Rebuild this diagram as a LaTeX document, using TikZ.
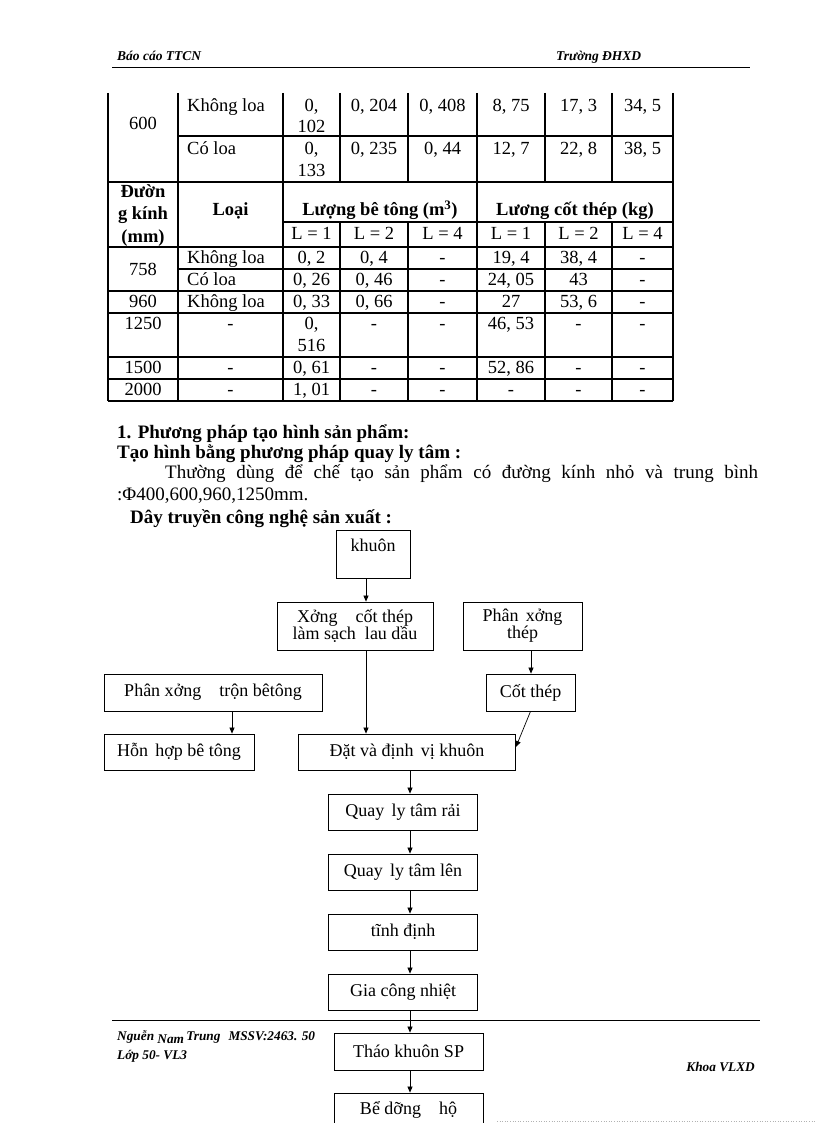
\documentclass[tikz,border=0pt]{standalone}
\usepackage{fontspec}
\setmainfont{Liberation Serif}
\usetikzlibrary{arrows.meta}
\newcommand\mytabrow[3]{%
  \foreach \v [count=\i] in {#3} {%
    \pgfmathsetmacro\cx{{311.5,374,442.5,511,578.5,642.5}[\i-1]}%
    \node[tab] (#1-\i) at (\cx,#2) {\v};}}
\begin{document}
\begin{tikzpicture}[x=1pt,y=-1pt,
  hdr/.style={font=\bfseries\itshape\fontsize{13.5}{15}\selectfont, inner sep=0pt},
  ftr/.style={font=\bfseries\itshape\fontsize{13.3}{15}\selectfont, inner sep=0pt},
  tab/.style={font=\fontsize{18.5}{20}\selectfont, inner sep=0pt, anchor=base},
  tabb/.style={tab, font=\bfseries\fontsize{18.5}{20}\selectfont},
  body/.style={font=\fontsize{19}{21}\selectfont, inner sep=0pt, anchor=base west},
  bodyb/.style={body, font=\bfseries\fontsize{19}{21}\selectfont},
  tline/.style={line width=1.1pt},
  fbox/.style={draw, line width=0.8pt, inner sep=0pt, align=center, font=\fontsize{18}{17}\selectfont},
  arr/.style={-{Triangle[length=6pt,width=5pt]}, line width=0.7pt}]
\useasboundingbox (0,0) rectangle (816,1123);
\clip (0,0) rectangle (816,1123);
\fill[white] (0,0) rectangle (816,1123);

% header
\node[hdr, anchor=base west] (h1) at (117,61) {Báo cáo TTCN};
\node[hdr, anchor=base west] (h2) at (556,61) {Trường ĐHXD};
\draw[line width=0.6pt] (112,67) -- (750,67);

% table lines
\foreach \x in {108,178,283,477,673} \draw[tline] (\x,93) -- (\x,401);
\foreach \x in {340,408,545,612} {\draw[tline] (\x,93) -- (\x,182); \draw[tline] (\x,222) -- (\x,401);}
\foreach \y in {136,269} \draw[tline] (178,\y) -- (673,\y);
\foreach \y in {182,247,291,313,357,379,401} \draw[tline] (108,\y) -- (673,\y);
\draw[tline] (283,222) -- (673,222);

% table rows 600
\node[tab] (t600) at (143,130) {600};
\node[tab, anchor=base west] (t600a) at (187,112) {Không loa};
\mytabrow{ra}{112}{{0,},{0, 204},{0, 408},{8, 75},{17, 3},{34, 5}}
\node[tab] (ra-x) at (311.5,133) {102};
\node[tab, anchor=base west] (t600b) at (187,155) {Có loa};
\mytabrow{rb}{155}{{0,},{0, 235},{0, 44},{12, 7},{22, 8},{38, 5}}
\node[tab] (rb-x) at (311.5,177) {133};

% header row
\node[tabb] (hd1) at (143,198) {Đườn};
\node[tabb] (hd2) at (143,219) {g kính};
\node[tabb] (hd3) at (143,242) {(mm)};
\node[tabb] (hd4) at (230.5,216) {Loại};
\node[tabb] (hd5) at (380,216) {Lượng bê tông (m\textsuperscript{3})};
\node[tabb] (hd6) at (575,216) {Lương cốt thép (kg)};
\mytabrow{rl}{240}{{L = 1},{L = 2},{L = 4},{L = 1},{L = 2},{L = 4}}

% 758
\node[tab] (t758) at (143,275) {758};
\node[tab, anchor=base west] (t758a) at (187,263) {Không loa};
\mytabrow{rc}{263}{{0, 2},{0, 4},{-},{19, 4},{38, 4},{-}}
\node[tab, anchor=base west] (t758b) at (187,285) {Có loa};
\mytabrow{rd}{285}{{0, 26},{0, 46},{-},{24, 05},{43},{-}}
% 960
\node[tab] (t960) at (143,307) {960};
\node[tab, anchor=base west] (t960a) at (187,307) {Không loa};
\mytabrow{re}{307}{{0, 33},{0, 66},{-},{27},{53, 6},{-}}
% 1250
\node[tab] (t1250) at (143,329) {1250};
\node[tab] (t1250a) at (230.5,329) {-};
\mytabrow{rf}{329}{{0,},{-},{-},{46, 53},{-},{-}}
\node[tab] (rf-x) at (311.5,351) {516};
% 1500
\node[tab] (t1500) at (143,373) {1500};
\node[tab] (t1500a) at (230.5,373) {-};
\mytabrow{rg}{373}{{0, 61},{-},{-},{52, 86},{-},{-}}
% 2000
\node[tab] (t2000) at (143,395) {2000};
\node[tab] (t2000a) at (230.5,395) {-};
\mytabrow{rh}{395}{{1, 01},{-},{-},{-},{-},{-}}

% body text
\node[bodyb] (p1) at (117,438) {1. Phương pháp tạo hình sản phẩm:};
\node[bodyb] (p2) at (117,458) {Tạo hình bằng phương pháp quay ly tâm :};
\node[body] (p3) at (165,478) {\makebox[593pt][s]{Thường dùng để chế tạo sản phẩm có đường kính nhỏ và trung bình}};
\node[body] (p4) at (117,500) {:Φ400,600,960,1250mm.};
\node[bodyb] (p5) at (130,523) {Dây truyền công nghệ sản xuất :};

% flowchart
\node[fbox, minimum width=74pt, minimum height=48pt, text height=13pt, text depth=19pt] (khuon) at (373,554) {khuôn};
\node[fbox, minimum width=156pt, minimum height=48pt] (xong) at (355,626) {Xởng\hspace{1em}cốt thép\\làm sạch\hspace{0.5em}lau dầu};
\node[fbox, minimum width=119pt, minimum height=48pt] (pxt) at (522.5,626) {Phân\hspace{0.4em}xởng\\thép};
\node[fbox, minimum width=89pt, minimum height=37pt] (cot) at (530.5,692.5) {Cốt thép};
\node[fbox, minimum width=218pt, minimum height=37pt] (tron) at (213,692.5) {Phân xởng\hspace{1em}trộn bêtông};
\node[fbox, minimum width=150pt, minimum height=36pt] (hon) at (179,752) {Hỗn\hspace{0.4em}hợp bê tông};
\node[fbox, minimum width=217pt, minimum height=36pt] (dat) at (407,752) {Đặt và định\hspace{0.4em}vị khuôn};
\node[fbox, minimum width=149pt, minimum height=36pt] (q1) at (403,812) {Quay\hspace{0.4em}ly tâm rải};
\node[fbox, minimum width=149pt, minimum height=36pt] (q2) at (403,872) {Quay\hspace{0.4em}ly tâm lên};
\node[fbox, minimum width=149pt, minimum height=36pt] (q3) at (403,932) {tĩnh định};
\node[fbox, minimum width=149pt, minimum height=36pt] (q4) at (403,992) {Gia công nhiệt};
\node[fbox, minimum width=149pt, minimum height=37pt] (q5) at (408.5,1051.5) {Tháo khuôn SP};
\node[fbox, minimum width=149pt, minimum height=40pt, text height=13pt, text depth=11pt] (q6) at (408.5,1113) {Bể dỡng\hspace{1em}hộ};

\coordinate (ca) at (366,0);
\coordinate (cb) at (531,0);
\coordinate (cc) at (232,0);
\coordinate (cd) at (410,0);
\draw[arr] (khuon.south -| ca) -- (xong.north -| ca);
\draw[arr] (xong.south -| ca) -- (dat.north -| ca);
\draw[arr] (pxt.south -| cb) -- (cot.north -| cb);
\draw[arr] (cot.south) -- ([yshift=5pt]dat.east);
\draw[arr] (tron.south -| cc) -- (hon.north -| cc);
\draw[arr] (dat.south -| cd) -- (q1.north -| cd);
\draw[arr] (q1.south -| cd) -- (q2.north -| cd);
\draw[arr] (q2.south -| cd) -- (q3.north -| cd);
\draw[arr] (q3.south -| cd) -- (q4.north -| cd);
\draw[arr] (q4.south -| cd) -- (q5.north -| cd);
\draw[arr] (q5.south -| cd) -- (q6.north -| cd);

% footer
\draw[line width=0.6pt] (112,1020) -- (760,1020);
\node[ftr, anchor=base west] (f1) at (117,1040) {Nguễn \raisebox{-3.5pt}{Nam}\,Trung\hspace{0.6em}MSSV:2463. 50};
\node[ftr, anchor=base west] (f2) at (117,1059) {Lớp 50- VL3};
\node[ftr, anchor=base east] (f3) at (755,1071) {Khoa VLXD};
\draw[gray!60, dotted, line width=0.6pt] (497,1121) -- (816,1121);
\end{tikzpicture}
\end{document}
